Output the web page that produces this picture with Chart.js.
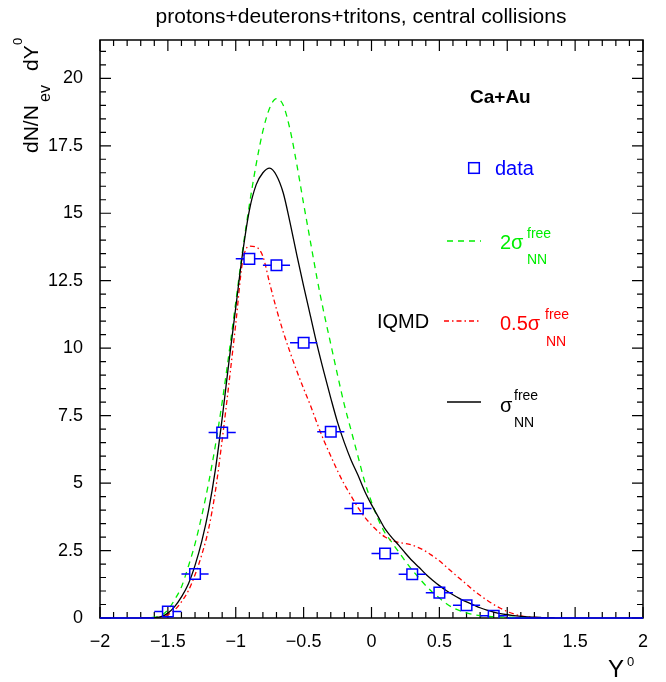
<!DOCTYPE html>
<html><head><meta charset="utf-8">
<script src="https://cdn.jsdelivr.net/npm/chart.js@4/dist/chart.umd.min.js"></script>
<style>html,body{margin:0;padding:0;background:#fff}canvas{display:block}</style>
</head><body>
<canvas id="c" width="666" height="682"></canvas>
<script>
// ---- data ----
const dataX = [-1.9,-1.7,-1.5,-1.3,-1.1,-0.9,-0.7,-0.5,-0.3,-0.1,0.1,0.3,0.5,0.7,0.9,1.1,1.3,1.5,1.7,1.9];
const dataY = [0,0,0.24,1.63,6.87,13.31,13.07,10.2,6.9,4.06,2.39,1.62,0.94,0.47,0.08,0,0,0,0,0];
const dataXErr = [0.1,0.1,0.1,0.1,0.1,0.1,0.1,0.1,0.1,0.1,0.1,0.1,0.1,0.1,0.1,0.1,0.1,0.1,0.1,0.1];

const curveX = [-1.7,-1.65,-1.6,-1.55,-1.5,-1.45,-1.4,-1.35,-1.3,-1.25,-1.2,-1.15,-1.1,-1.05,-1.0,-0.95,-0.9,-0.85,-0.8,-0.75,-0.7,-0.65,-0.6,-0.55,-0.5,-0.45,-0.4,-0.35,-0.3,-0.25,-0.2,-0.15,-0.1,-0.05,0,0.05,0.1,0.15,0.2,0.25,0.3,0.35,0.4,0.45,0.5,0.55,0.6,0.65,0.7,0.75,0.8,0.85,0.9,0.95,1.0,1.05,1.1,1.15,1.2,1.25,1.3,1.35];
const sigmaFree = [0,0,0.01,0.05,0.18,0.42,0.78,1.25,1.95,2.85,4.0,5.5,7.4,9.5,11.5,13.5,15.1,16.05,16.5,16.67,16.4,15.75,14.65,13.45,12.3,11.2,10.1,9.1,8.15,7.25,6.5,5.85,5.3,4.7,4.2,3.75,3.3,2.98,2.7,2.4,2.12,1.88,1.62,1.4,1.2,1.02,0.86,0.72,0.6,0.49,0.38,0.29,0.22,0.16,0.12,0.09,0.06,0.04,0.03,0.02,0.01,0];
const sigma2 = [0,0.01,0.03,0.1,0.3,0.68,1.15,1.9,2.75,3.8,5.0,6.4,8.0,9.8,11.7,13.6,15.3,16.8,18.05,18.9,19.25,19.0,18.1,16.8,15.35,13.95,12.55,11.3,10.15,9.0,7.9,6.95,6.0,5.05,4.3,3.65,3.15,2.8,2.45,2.1,1.78,1.48,1.2,0.95,0.74,0.54,0.38,0.27,0.19,0.13,0.09,0.07,0.05,0.04,0.03,0.02,0.01,0.01,0,0,0,0];
const sigmaHalf = [0,0,0.01,0.04,0.12,0.3,0.6,1.0,1.6,2.35,3.3,4.7,6.6,8.7,10.9,13.2,13.78,13.75,13.4,12.4,11.45,10.6,9.85,9.15,8.5,7.88,7.2,6.57,6.0,5.45,4.95,4.52,4.1,3.74,3.45,3.2,3.0,2.87,2.8,2.76,2.7,2.6,2.47,2.3,2.12,1.9,1.68,1.46,1.25,1.03,0.84,0.66,0.5,0.36,0.24,0.15,0.08,0.04,0.02,0.01,0,0];

const xTicks = [-2,-1.5,-1,-0.5,0,0.5,1,1.5,2];
const yTicks = [0,2.5,5,7.5,10,12.5,15,17.5,20];

const FONT = "'Liberation Sans', Arial, Helvetica, sans-serif";
const BLUE = '#0000ff', GREEN = '#00ee00', RED = '#ff0000';
const MARK_R = 7.5;

const pts = (xs, ys) => xs.map((x, i) => ({x, y: ys[i]}));
const fmt = v => String(v).replace('-', '\u2212');

function richText(ctx, x, y, parts) {
  for (const p of parts) {
    ctx.font = (p.bold ? 'bold ' : '') + p.size + 'px ' + FONT;
    ctx.fillStyle = p.color || '#000';
    ctx.fillText(p.t, x + (p.dx || 0), y + (p.dy || 0));
  }
}

const framePlugin = {
  id: 'frame',
  beforeDatasetsDraw(chart) {
    const {ctx, chartArea: a, scales: {x, y}} = chart;
    ctx.save();
    ctx.strokeStyle = '#000';
    ctx.lineWidth = 1.5;
    ctx.strokeRect(a.left, a.top, a.right - a.left, a.bottom - a.top);
    ctx.lineWidth = 1.2;
    ctx.beginPath();
    for (let k = -20; k <= 20; k++) {
      const v = k / 10, px = x.getPixelForValue(v);
      const L = (k % 5 === 0) ? 11 : 6;
      ctx.moveTo(px, a.bottom); ctx.lineTo(px, a.bottom - L);
      ctx.moveTo(px, a.top); ctx.lineTo(px, a.top + L);
    }
    for (let k = 0; k <= 42; k++) {
      const v = k * 0.5; if (v > y.max) break;
      const py = y.getPixelForValue(v);
      const L = (k % 5 === 0) ? 11 : 6;
      ctx.moveTo(a.left, py); ctx.lineTo(a.left + L, py);
      ctx.moveTo(a.right, py); ctx.lineTo(a.right - L, py);
    }
    ctx.stroke();
    ctx.restore();
  },
  afterDatasetsDraw(chart) {
    const {ctx, chartArea: a, scales: {x, y}} = chart;
    ctx.save();
    ctx.beginPath(); ctx.rect(a.left, 0, a.right - a.left, chart.height); ctx.clip();
    ctx.strokeStyle = BLUE; ctx.lineWidth = 1.5;
    const h = MARK_R * Math.SQRT1_2;
    ctx.beginPath();
    dataX.forEach((dx, i) => {
      const px = x.getPixelForValue(dx), py = y.getPixelForValue(dataY[i]);
      const x1 = x.getPixelForValue(dx - dataXErr[i]), x2 = x.getPixelForValue(dx + dataXErr[i]);
      if (dataY[i] > 0) {
        ctx.moveTo(x1, py); ctx.lineTo(px - h, py);
        ctx.moveTo(px + h, py); ctx.lineTo(x2, py);
      } else {
        ctx.moveTo(x1, py); ctx.lineTo(x2, py);
      }
    });
    ctx.stroke();
    ctx.restore();
  },
  afterDraw(chart) {
    const {ctx} = chart;
    ctx.save();
    ctx.textBaseline = 'alphabetic';
    // title
    ctx.textAlign = 'center';
    ctx.font = '21px ' + FONT; ctx.fillStyle = '#000';
    ctx.fillText('protons+deuterons+tritons, central collisions', 361, 23);
    ctx.textAlign = 'left';
    // x title
    richText(ctx, 0, 0, [{t:'Y', size:24, dx:608, dy:677}, {t:'0', size:13, dx:627, dy:666}]);
    // y title
    ctx.save();
    ctx.translate(38, 153); ctx.rotate(-Math.PI / 2);
    richText(ctx, 0, 0, [
      {t:'dN/N', size:21}, {t:'ev', size:16, dx:51, dy:12},
      {t:'dY', size:21, dx:82}, {t:'0', size:13, dx:108, dy:-16}
    ]);
    ctx.restore();
    // legend / labels
    richText(ctx, 0, 0, [{t:'Ca+Au', size:19, bold:true, dx:470, dy:103}]);
    ctx.strokeStyle = BLUE; ctx.lineWidth = 1.5;
    const h = MARK_R * Math.SQRT1_2;
    ctx.strokeRect(474 - h, 168 - h, 2 * h, 2 * h);
    richText(ctx, 0, 0, [{t:'data', size:20, color:BLUE, dx:495, dy:175}]);
    ctx.lineWidth = 1.3;
    ctx.strokeStyle = GREEN; ctx.setLineDash([6, 5]);
    ctx.beginPath(); ctx.moveTo(447, 241); ctx.lineTo(481, 241); ctx.stroke();
    richText(ctx, 0, 0, [{t:'2\u03c3', size:20, color:GREEN, dx:500, dy:249},
      {t:'free', size:14, color:GREEN, dx:527, dy:238}, {t:'NN', size:14, color:GREEN, dx:527, dy:264}]);
    ctx.strokeStyle = RED; ctx.setLineDash([5, 3, 1.5, 3]);
    ctx.beginPath(); ctx.moveTo(444, 321); ctx.lineTo(481, 321); ctx.stroke();
    richText(ctx, 0, 0, [{t:'IQMD', size:20, dx:377, dy:328},
      {t:'0.5\u03c3', size:20, color:RED, dx:500, dy:330},
      {t:'free', size:14, color:RED, dx:545, dy:319}, {t:'NN', size:14, color:RED, dx:546, dy:346}]);
    ctx.strokeStyle = '#000'; ctx.setLineDash([]);
    ctx.beginPath(); ctx.moveTo(447, 402); ctx.lineTo(481, 402); ctx.stroke();
    richText(ctx, 0, 0, [{t:'\u03c3', size:20, dx:500, dy:412},
      {t:'free', size:14, dx:514, dy:400}, {t:'NN', size:14, dx:514, dy:427}]);
    ctx.restore();
  }
};

const curveStyle = {pointRadius: 0, fill: false, cubicInterpolationMode: 'monotone', borderWidth: 1.3};

new Chart(document.getElementById('c'), {
  type: 'line',
  data: {
    datasets: [
      {label: 'data', data: pts(dataX, dataY), showLine: false, pointStyle: 'rect',
       pointRadius: c => (dataY[c.dataIndex] > 0 ? MARK_R : 0), pointBorderWidth: 1.5,
       borderColor: BLUE, pointBorderColor: BLUE, backgroundColor: 'rgba(0,0,0,0)', pointBackgroundColor: 'rgba(0,0,0,0)', clip: 0},
      Object.assign({label: 'sigma free', data: pts(curveX, sigmaFree), borderColor: '#000'}, curveStyle),
      Object.assign({label: '0.5 sigma free', data: pts(curveX, sigmaHalf), borderColor: RED, borderDash: [5, 3, 1.5, 3]}, curveStyle),
      Object.assign({label: '2 sigma free', data: pts(curveX, sigma2), borderColor: GREEN, borderDash: [6, 5]}, curveStyle)
    ]
  },
  options: {
    responsive: false, animation: false, events: [],
    layout: {padding: {left: 0, right: 23, top: 40, bottom: 0}},
    plugins: {legend: {display: false}, tooltip: {enabled: false}},
    scales: {
      x: {type: 'linear', min: -2, max: 2,
          grid: {display: false, drawTicks: false}, border: {display: false},
          afterBuildTicks: s => { s.ticks = xTicks.map(v => ({value: v})); },
          ticks: {padding: 13, color: '#000', font: {family: FONT, size: 18}, maxRotation: 0, autoSkip: false, callback: v => fmt(v)},
          afterFit: s => { s.height = 64; }},
      y: {type: 'linear', min: 0, max: 21.42,
          grid: {display: false, drawTicks: false}, border: {display: false},
          afterBuildTicks: s => { s.ticks = yTicks.map(v => ({value: v})); },
          ticks: {padding: 17, color: '#000', font: {family: FONT, size: 18}, autoSkip: false, callback: v => fmt(v)},
          afterFit: s => { s.height; s.width = 100; }}
    }
  },
  plugins: [framePlugin]
});
</script>
</body></html>
